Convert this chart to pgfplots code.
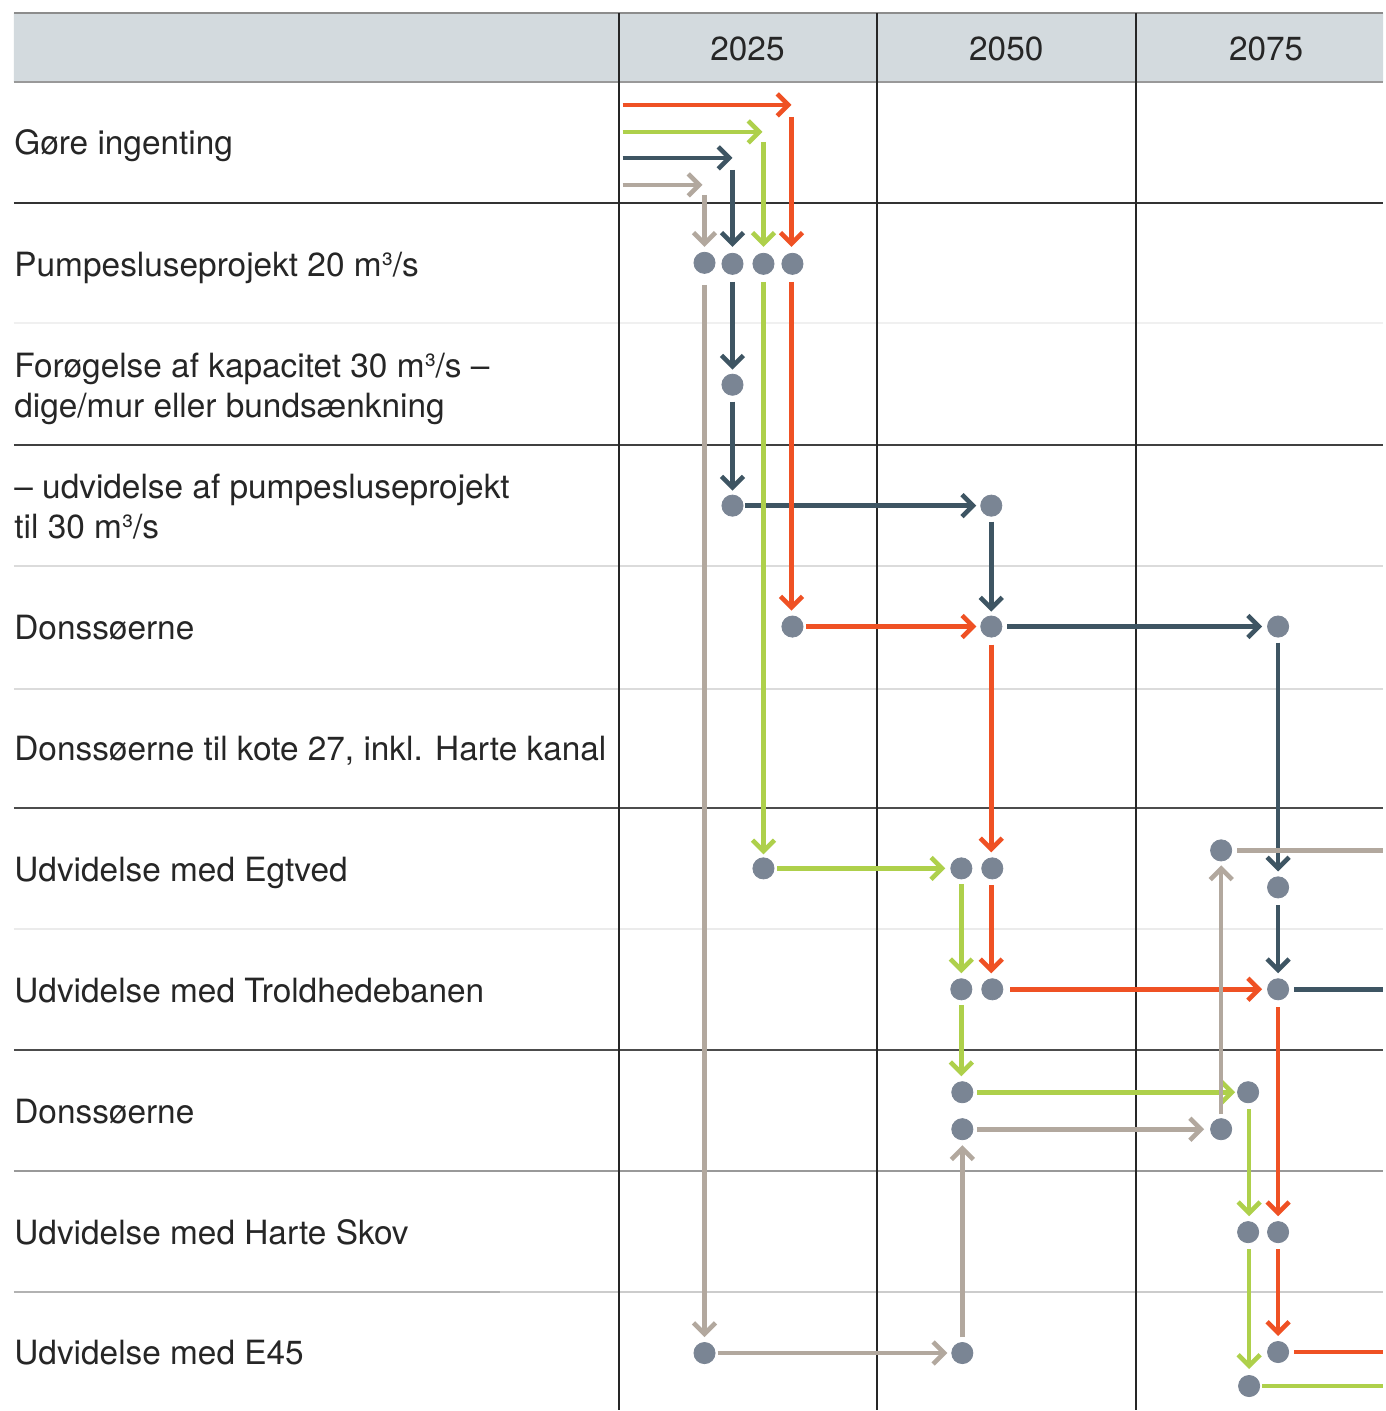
\documentclass[border=0pt]{standalone}
\usepackage{pgfplots}
\pgfplotsset{compat=1.18}
\usetikzlibrary{arrows.meta}
\usepackage{fontspec}
\setmainfont{TeX Gyre Heros}
\definecolor{cred}{HTML}{EF5124}
\definecolor{cgreen}{HTML}{AED04B}
\definecolor{cdark}{HTML}{3E5563}
\definecolor{ctaupe}{HTML}{B2A89E}
\definecolor{cdot}{HTML}{7A8594}
\definecolor{chead}{HTML}{D3DADE}
\definecolor{ctxt}{HTML}{262626}
\pgfplotsset{
  arr/.style={line width=2.3pt, -{Straight Barb[length=5.5pt,width=11pt]}},
  seg/.style={line width=2.3pt},
}
\newcommand{\lbl}{\fontsize{16.7}{20}\selectfont}
\begin{document}
\begin{tikzpicture}
\begin{axis}[scale only axis, width=692pt, height=705.5pt,
  xmin=0, xmax=1384, ymin=0, ymax=1411, y dir=reverse,
  axis lines=none, ticks=none, clip=false]
% background
\addplot[draw=none, fill=white, forget plot] coordinates {(0,0)(1384,0)(1384,1411)(0,1411)(0,0)};
% header band
\addplot[draw=none, fill=chead, forget plot] coordinates {(14,13)(1384,13)(1384,82)(14,82)(14,13)};
\draw[gray!90, line width=1pt] (axis cs:14,13) -- (axis cs:1384,13);
\draw[gray!80, line width=1pt] (axis cs:14,82) -- (axis cs:1384,82);
% horizontal row lines
\draw[black!80, line width=1pt] (axis cs:14,203) -- (axis cs:1384,203);
\draw[black!6, line width=1pt] (axis cs:14,323) -- (axis cs:1384,323);
\draw[black!75, line width=1pt] (axis cs:14,445) -- (axis cs:1384,445);
\draw[black!14, line width=1pt] (axis cs:14,566) -- (axis cs:1384,566);
\draw[black!14, line width=1pt] (axis cs:14,689) -- (axis cs:1384,689);
\draw[black!70, line width=1pt] (axis cs:14,809) -- (axis cs:1384,809);
\draw[black!8, line width=1pt] (axis cs:14,930) -- (axis cs:1384,930);
\draw[black!70, line width=1pt] (axis cs:14,1051) -- (axis cs:1384,1051);
\draw[black!40, line width=1pt] (axis cs:14,1172) -- (axis cs:1384,1172);
\draw[black!30, line width=1pt] (axis cs:14,1293) -- (axis cs:500,1293);
\draw[black!20, line width=1pt] (axis cs:500,1293) -- (axis cs:1384,1293);
% vertical lines
\draw[black!85, line width=1pt] (axis cs:619,13) -- (axis cs:619,1411);
\draw[black!85, line width=1pt] (axis cs:878,13) -- (axis cs:878,1411);
\draw[black!85, line width=1pt] (axis cs:1137,13) -- (axis cs:1137,1411);
% header labels
\node[font=\lbl, text=ctxt] at (axis cs:748,49) {2025};
\node[font=\lbl, text=ctxt] at (axis cs:1007,49) {2050};
\node[font=\lbl, text=ctxt] at (axis cs:1267,49) {2075};
% row labels
\begin{scope}[every node/.style={anchor=base west, font=\lbl, text=ctxt, inner sep=0pt}]
\node at (axis cs:14,155) {Gøre ingenting};
\node at (axis cs:14,277) {Pumpesluseprojekt 20 m³/s};
\node at (axis cs:14,378) {Forøgelse af kapacitet 30 m³/s –};
\node at (axis cs:14,418) {dige/mur eller bundsænkning};
\node at (axis cs:14,499) {– udvidelse af pumpesluseprojekt};
\node at (axis cs:14,539) {til 30 m³/s};
\node at (axis cs:14,640) {Donssøerne};
\node at (axis cs:14,761) {Donssøerne til kote 27, inkl. Harte kanal};
\node at (axis cs:14,882) {Udvidelse med Egtved};
\node at (axis cs:14,1003) {Udvidelse med Troldhedebanen};
\node at (axis cs:14,1124) {Donssøerne};
\node at (axis cs:14,1245) {Udvidelse med Harte Skov};
\node at (axis cs:14,1365) {Udvidelse med E45};
\end{scope}
% dark path
\addplot[arr, cdark] coordinates {(623,158)(733,158)};
\addplot[arr, cdark] coordinates {(733,170)(733,247)};
\addplot[arr, cdark] coordinates {(733,282)(733,370)};
\addplot[arr, cdark] coordinates {(733,402)(733,491)};
\addplot[arr, cdark] coordinates {(746,506)(977,506)};
\addplot[arr, cdark] coordinates {(992,522)(992,612)};
\addplot[arr, cdark] coordinates {(1008,627)(1263,627)};
\addplot[arr, cdark] coordinates {(1279,643)(1279,872)};
\addplot[arr, cdark] coordinates {(1279,906)(1279,974)};
\addplot[seg, cdark] coordinates {(1295,990)(1384,990)};
% green path
\addplot[arr, cgreen] coordinates {(623,132)(763,132)};
\addplot[arr, cgreen] coordinates {(764,142)(764,247)};
\addplot[arr, cgreen] coordinates {(764,282)(764,855)};
\addplot[arr, cgreen] coordinates {(778,869)(946,869)};
\addplot[arr, cgreen] coordinates {(962,885)(962,974)};
\addplot[arr, cgreen] coordinates {(962,1006)(962,1077)};
\addplot[arr, cgreen] coordinates {(978,1093)(1236,1093)};
\addplot[arr, cgreen] coordinates {(1250,1110)(1250,1217)};
\addplot[arr, cgreen] coordinates {(1250,1250)(1250,1370)};
\addplot[seg, cgreen] coordinates {(1263,1387)(1384,1387)};
% red path
\addplot[arr, cred] coordinates {(623,105)(792,105)};
\addplot[arr, cred] coordinates {(792,117)(792,247)};
\addplot[arr, cred] coordinates {(792,282)(792,611)};
\addplot[arr, cred] coordinates {(807,627)(977,627)};
\addplot[arr, cred] coordinates {(992,645)(992,853)};
\addplot[arr, cred] coordinates {(992,886)(992,974)};
\addplot[arr, cred] coordinates {(1011,990)(1263,990)};
\addplot[arr, cred] coordinates {(1279,1008)(1279,1217)};
\addplot[arr, cred] coordinates {(1279,1250)(1279,1337)};
\addplot[seg, cred] coordinates {(1295,1353)(1384,1353)};
% taupe path
\addplot[arr, ctaupe] coordinates {(623,185)(703,185)};
\addplot[arr, ctaupe] coordinates {(705,195)(705,247)};
\addplot[arr, ctaupe] coordinates {(705,285)(705,1338)};
\addplot[arr, ctaupe] coordinates {(718,1354)(948,1354)};
\addplot[arr, ctaupe] coordinates {(963,1338)(963,1146)};
\addplot[arr, ctaupe] coordinates {(978,1130)(1205,1130)};
\addplot[arr, ctaupe] coordinates {(1222,1115)(1222,866)};
\addplot[seg, ctaupe] coordinates {(1238,851)(1384,851)};
% dots
\addplot[only marks, mark=*, mark size=5.3pt, color=cdot, mark options={draw=cdot, fill=cdot}] coordinates {
(705,263)(733,264)(764,264)(793,264)
(733,385)(733,506)(992,506)
(793,627)(992,627)(1279,627)
(764,869)(962,869)(993,869)(1222,851)(1279,888)
(962,990)(993,990)(1279,990)
(963,1093)(1249,1093)(963,1130)(1222,1130)
(1249,1233)(1279,1233)
(705,1354)(963,1354)(1279,1353)(1250,1387)
};
\end{axis}
\end{tikzpicture}
\end{document}
